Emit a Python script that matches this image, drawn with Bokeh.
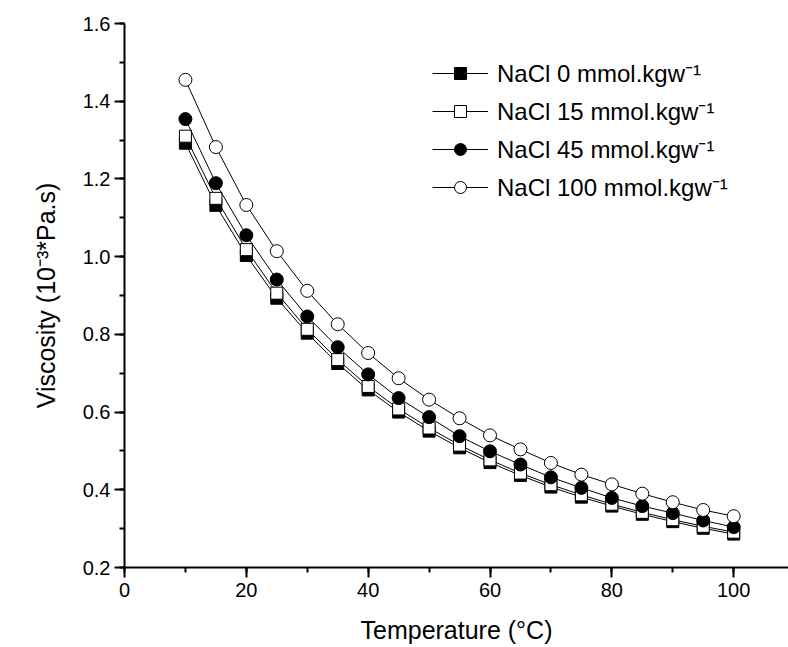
from bokeh.plotting import figure
from bokeh.models import SingleIntervalTicker, Legend, LegendItem, CustomJSTickFormatter
from bokeh.embed import file_html
from bokeh.resources import INLINE

temperature = [10, 15, 20, 25, 30, 35, 40, 45, 50, 55, 60, 65, 70, 75, 80, 85, 90, 95, 100]
nacl_0 = [1.292, 1.132, 1.003, 0.893, 0.803, 0.725, 0.657, 0.600, 0.551, 0.508, 0.470, 0.437, 0.407, 0.381, 0.358, 0.337, 0.318, 0.301, 0.286]
nacl_15 = [1.310, 1.150, 1.018, 0.906, 0.813, 0.735, 0.666, 0.608, 0.559, 0.515, 0.477, 0.443, 0.413, 0.387, 0.363, 0.342, 0.323, 0.306, 0.291]
nacl_45 = [1.354, 1.189, 1.055, 0.941, 0.846, 0.767, 0.697, 0.636, 0.587, 0.538, 0.499, 0.465, 0.432, 0.405, 0.379, 0.358, 0.340, 0.321, 0.304]
nacl_100 = [1.455, 1.282, 1.133, 1.014, 0.912, 0.826, 0.752, 0.687, 0.632, 0.584, 0.540, 0.504, 0.469, 0.439, 0.414, 0.390, 0.368, 0.348, 0.332]

labels = ["NaCl 0 mmol.kgw\u207b\u00b9", "NaCl 15 mmol.kgw\u207b\u00b9",
          "NaCl 45 mmol.kgw\u207b\u00b9", "NaCl 100 mmol.kgw\u207b\u00b9"]
series = [nacl_0, nacl_15, nacl_45, nacl_100]
markers = ["square", "square", "circle", "circle"]
fills = ["black", "white", "black", "white"]
sizes = [12, 12, 13, 13]

FONT = "Liberation Sans"

p = figure(width=788, height=647, x_range=(0, 109), y_range=(0.2, 1.6),
           output_backend="svg", toolbar_location=None,
           min_border_left=124, min_border_right=0, min_border_top=23, min_border_bottom=80)
p.outline_line_color = None
p.xgrid.visible = False
p.ygrid.visible = False
p.background_fill_color = "white"
p.border_fill_color = "white"

p.xaxis.ticker = SingleIntervalTicker(interval=20, num_minor_ticks=2)
p.yaxis.ticker = SingleIntervalTicker(interval=0.2, num_minor_ticks=2)
p.yaxis.formatter = CustomJSTickFormatter(code="return tick.toFixed(1);")

for ax in (p.xaxis[0], p.yaxis[0]):
    ax.axis_line_width = 2
    ax.axis_line_color = "black"
    ax.major_tick_line_width = 2
    ax.minor_tick_line_width = 2
    ax.major_tick_line_color = "black"
    ax.minor_tick_line_color = "black"
    ax.major_tick_in = 0
    ax.major_tick_out = 10
    ax.minor_tick_in = 0
    ax.minor_tick_out = 5
    ax.major_label_text_font = FONT
    ax.major_label_text_font_size = "20px"
    ax.major_label_text_color = "black"
    ax.axis_label_text_font = FONT
    ax.axis_label_text_font_size = "25px"
    ax.axis_label_text_font_style = "normal"
    ax.axis_label_text_color = "black"

p.xaxis.axis_label = "Temperature (\u00b0C)"
p.yaxis.axis_label = "Viscosity (10\u207b\u00b3*Pa.s)"
p.xaxis.major_label_standoff = 5
p.yaxis.major_label_standoff = 4
p.xaxis.axis_label_standoff = 16
p.yaxis.axis_label_standoff = 20

items = []
for ys, lab, mk, fc, sz in zip(series, labels, markers, fills, sizes):
    ln = p.line(temperature, ys, line_color="black", line_width=1)
    sc = p.scatter(temperature, ys, marker=mk, size=sz, fill_color=fc, line_color="black", line_width=1)
    items.append(LegendItem(label=lab, renderers=[ln, sc]))

legend = Legend(items=items, location=(308, 364), orientation="vertical")
legend.border_line_color = None
legend.background_fill_alpha = 0
legend.padding = 0
legend.margin = 0
legend.spacing = 5
legend.glyph_width = 56
legend.glyph_height = 30
legend.label_height = 30
legend.label_standoff = 9
legend.label_text_font = FONT
legend.label_text_font_size = "24px"
legend.label_text_color = "black"
p.add_layout(legend, "center")

open("out.html", "w").write(file_html(p, INLINE))
